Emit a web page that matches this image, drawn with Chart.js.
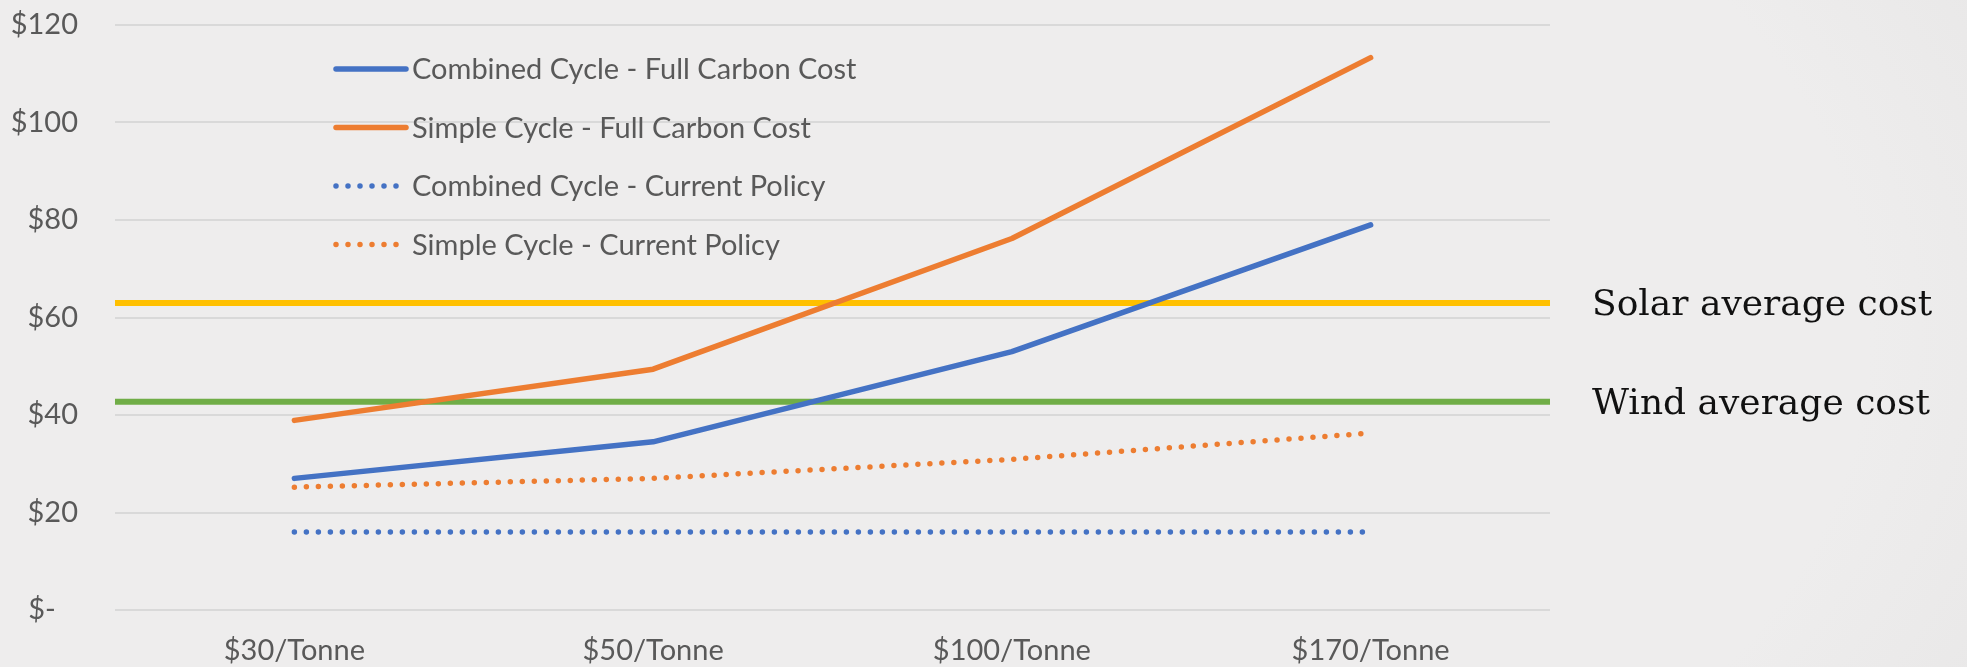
<!DOCTYPE html>
<html>
<head>
<meta charset="utf-8">
<title>Generation cost by carbon price</title>
<script src="https://cdn.jsdelivr.net/npm/chart.js@4.4.0/dist/chart.umd.min.js"></script>
<style>
  html, body { margin: 0; padding: 0; }
  body {
    width: 1967px;
    height: 667px;
    overflow: hidden;
    background: radial-gradient(ellipse 95% 170% at 38% 50%, #eeeded 60%, #e7e6e6 78%, #d2d2d2 100%);
  }
  #wrap { position: relative; width: 1967px; height: 667px; }
</style>
</head>
<body>
<div id="wrap"><canvas id="costChart"></canvas></div>
<script>
// carbon price scenarios and cost per MWh
const carbonPrices = ['$30/Tonne', '$50/Tonne', '$100/Tonne', '$170/Tonne'];
const combinedFull = [27, 34.5, 53, 79];
const simpleFull = [38.9, 49.4, 76.2, 113.3];
const combinedPolicy = [16, 16, 16, 16];
const simplePolicy = [25.2, 27, 30.9, 36.3];

// flat reference costs
const solarAvg = 63;
const windAvg = 42.7;

const yMin = 0;
const yMax = 120;
const yStep = 20;

const BLUE = '#4472C4';
const ORANGE = '#ED7D31';
const YELLOW = '#FFC000';
const GREEN = '#70AD47';
const GREY_TEXT = '#595959';
const SANS = 'Lato, "Open Sans", sans-serif';

const dotted = [0, 12];

function money(v) {
  if (v === 0) return '$-   ';
  return '$' + v;
}

// legend drawn inside the plot, top-left
const insideLegend = {
  id: 'insideLegend',
  afterDraw(chart) {
    const ctx = chart.ctx;
    const rows = chart.data.datasets.filter(d => d.inLegend);
    const x0 = 336, x1 = 406, tx = 412;
    const top = 69, gap = 58.5;
    ctx.save();
    ctx.font = '29px ' + SANS;
    ctx.textBaseline = 'middle';
    rows.forEach((ds, i) => {
      const y = top + i * gap;
      ctx.beginPath();
      ctx.strokeStyle = ds.borderColor;
      ctx.lineWidth = ds.borderWidth;
      ctx.lineCap = 'round';
      ctx.setLineDash(ds.borderDash || []);
      ctx.moveTo(x0, y);
      ctx.lineTo(ds.borderDash ? x1 - 6 : x1, y);
      ctx.stroke();
      ctx.setLineDash([]);
      ctx.fillStyle = GREY_TEXT;
      ctx.fillText(ds.label, tx, y + 1);
    });
    ctx.restore();
  }
};

// names for the flat cost lines, right of the plot
const sideLabels = {
  id: 'sideLabels',
  afterDraw(chart) {
    const ctx = chart.ctx;
    const y = chart.scales.y;
    ctx.save();
    ctx.font = '36px "DejaVu Serif", serif';
    ctx.fillStyle = '#111';
    ctx.textBaseline = 'alphabetic';
    chart.data.datasets.filter(d => d.sideLabel).forEach(ds => {
      const py = y.getPixelForValue(ds.data[0].y);
      ctx.fillText(ds.sideLabel, chart.chartArea.right + 42, py + 12);
    });
    ctx.restore();
  }
};

const ctx = document.getElementById('costChart').getContext('2d');
new Chart(ctx, {
  type: 'line',
  data: {
    labels: carbonPrices,
    datasets: [
      {
        label: 'Solar average cost',
        sideLabel: 'Solar average cost',
        xAxisID: 'xFlat',
        data: [{ x: 0, y: solarAvg }, { x: 1, y: solarAvg }],
        borderColor: YELLOW,
        borderWidth: 6,
        order: 5,
      },
      {
        label: 'Wind average cost',
        sideLabel: 'Wind average cost',
        xAxisID: 'xFlat',
        data: [{ x: 0, y: windAvg }, { x: 1, y: windAvg }],
        borderColor: GREEN,
        borderWidth: 6,
        order: 5,
      },
      {
        label: 'Combined Cycle - Full Carbon Cost',
        inLegend: true,
        data: combinedFull,
        borderColor: BLUE,
        borderWidth: 5.5,
        order: 1,
      },
      {
        label: 'Simple Cycle - Full Carbon Cost',
        inLegend: true,
        data: simpleFull,
        borderColor: ORANGE,
        borderWidth: 5.5,
        order: 1,
      },
      {
        label: 'Combined Cycle - Current Policy',
        inLegend: true,
        data: combinedPolicy,
        borderColor: BLUE,
        borderWidth: 5.5,
        borderDash: dotted,
        order: 2,
      },
      {
        label: 'Simple Cycle - Current Policy',
        inLegend: true,
        data: simplePolicy,
        borderColor: ORANGE,
        borderWidth: 5.5,
        borderDash: dotted,
        order: 2,
      },
    ]
  },
  options: {
    responsive: true,
    maintainAspectRatio: false,
    animation: false,
    elements: {
      point: { radius: 0, hoverRadius: 0 },
      line: { tension: 0, borderCapStyle: 'round', borderJoinStyle: 'round', fill: false },
    },
    layout: { padding: { top: 25, right: 417, bottom: 0, left: 0 } },
    plugins: {
      legend: { display: false },
      tooltip: { enabled: false },
    },
    scales: {
      x: {
        type: 'category',
        offset: true,
        grid: { display: false, drawTicks: false },
        border: { display: false },
        ticks: { color: GREY_TEXT, font: { family: SANS, size: 29 }, padding: 23, maxRotation: 0 },
        afterFit: s => { s.height = 57; },
      },
      xFlat: {
        type: 'linear',
        min: 0,
        max: 1,
        display: false,
      },
      y: {
        min: yMin,
        max: yMax,
        ticks: {
          stepSize: yStep,
          color: GREY_TEXT,
          font: { family: SANS, size: 29 },
          padding: 37,
          callback: v => money(v),
        },
        grid: { color: '#d9d9d9', lineWidth: 2, drawTicks: false },
        border: { display: false },
        // fixed gutter; the tick labels must not push the plot down
        afterFit: s => {
          s.width = 115;
          s.paddingTop = 0;
          s.paddingBottom = 0;
        },
      },
    },
  },
  plugins: [insideLegend, sideLabels],
});
</script>
</body>
</html>
